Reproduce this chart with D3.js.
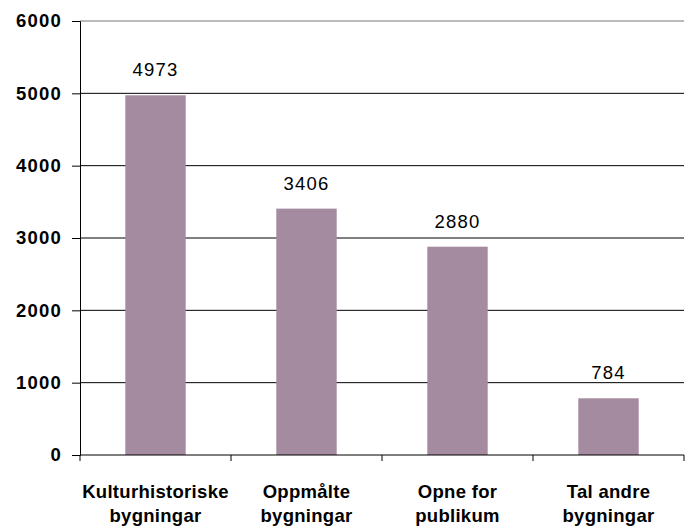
<!DOCTYPE html>
<html><head><meta charset="utf-8">
<script src="https://cdn.jsdelivr.net/npm/d3@7"></script>
<style>html,body{margin:0;padding:0;background:#fff;}svg{display:block;}</style>
</head><body>
<script>
const categories = [["Kulturhistoriske","bygningar"],["Oppmålte","bygningar"],["Opne for","publikum"],["Tal andre","bygningar"]];
const values = [4973, 3406, 2880, 784];
const yTicks = [0,1000,2000,3000,4000,5000,6000];

const W = 689, H = 527;
const m = {left:80, right:5, top:21, bottom:72};
const svg = d3.select("body").append("svg").attr("width",W).attr("height",H);
const x = d3.scaleBand().domain(categories.map((d,i)=>i)).range([m.left, W-m.right]).paddingInner(0.6).paddingOuter(0.3);
const y = d3.scaleLinear().domain([0,6000]).range([H-m.bottom, m.top]);
const font = "'Liberation Sans', Arial, Helvetica, sans-serif";

// gridlines
svg.append("g").selectAll("line").data(yTicks.filter(t=>t>0)).join("line")
  .attr("x1",m.left).attr("x2",W-m.right).attr("y1",d=>y(d)).attr("y2",d=>y(d))
  .attr("stroke",d=>d===6000?"#777":"#000").attr("stroke-width",1);

// bars
svg.append("g").selectAll("rect").data(values).join("rect")
  .attr("x",(d,i)=>x(i)).attr("width",x.bandwidth())
  .attr("y",d=>y(d)).attr("height",d=>y(0)-y(d)).attr("fill","#a58b9f");

// value labels
svg.append("g").selectAll("text").data(values).join("text")
  .attr("x",(d,i)=>x(i)+x.bandwidth()/2).attr("y",d=>y(d)-19)
  .attr("text-anchor","middle").attr("font-family",font).attr("font-size",18.5)
  .attr("letter-spacing",1.2).attr("fill","#000").text(d=>d);

// y axis
const ya = d3.axisLeft(y).tickValues(yTicks).tickSize(8).tickPadding(10).tickFormat(d3.format("d"));
const gy = svg.append("g").attr("transform",`translate(${m.left},0)`).call(ya);
gy.select(".domain").attr("stroke","#000");
gy.selectAll(".tick line").attr("stroke","#000");
gy.selectAll(".tick text").attr("font-family",font).attr("font-size",18.5).attr("font-weight","bold")
  .attr("letter-spacing",1.2).attr("fill","#000");

// x axis
const xb = d3.scaleLinear().domain([0,4]).range([m.left, W-m.right]);
const gx = svg.append("g").attr("transform",`translate(0,${y(0)})`);
gx.append("line").attr("x1",m.left).attr("x2",W-m.right).attr("stroke","#000");
gx.selectAll("line.t").data([0,1,2,3,4]).join("line").attr("class","t")
  .attr("x1",d=>xb(d)).attr("x2",d=>xb(d)).attr("y1",0).attr("y2",6).attr("stroke","#000");
const lab = gx.selectAll("text").data(categories).join("text")
  .attr("text-anchor","middle").attr("font-family",font).attr("font-size",18.5).attr("font-weight","bold")
  .attr("letter-spacing",0.3).attr("fill","#000");
lab.each(function(d,i){
  const t = d3.select(this);
  d.forEach((s,k)=>t.append("tspan").attr("x",x(i)+x.bandwidth()/2).attr("y",43+k*23.5).text(s));
});
</script>
</body></html>
